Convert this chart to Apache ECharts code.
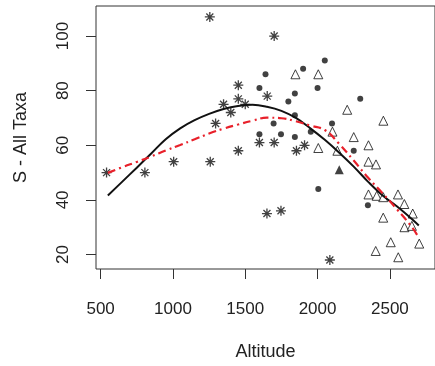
<!DOCTYPE html>
<html>
<head>
<meta charset="utf-8">
<script src="https://cdn.jsdelivr.net/npm/echarts@6/dist/echarts.min.js"></script>
<style>
  html, body { margin: 0; padding: 0; background: #fff; }
  #chart { width: 435px; height: 366px; }
</style>
</head>
<body>
<div id="chart"></div>
<script>
// ticks
const xTicks = [500, 1000, 1500, 2000, 2500];
const yTicks = [20, 40, 60, 80, 100];

// points by symbol, [altitude, S]
const starPoints = [
  [541, 50], [806, 50], [1005, 54], [1258, 54], [1255, 107], [1295, 68],
  [1350, 75], [1400, 72], [1452, 82], [1452, 77], [1452, 58], [1500, 75],
  [1700, 100], [1652, 78], [1598, 61], [1700, 61], [1910, 60], [1854, 58],
  [1650, 35], [1747, 36], [2085, 18]
];
const dotPoints = [
  [1598, 81], [1640, 86], [1900, 88], [2050, 91], [2000, 81], [1843, 79],
  [1798, 76], [1843, 71], [1696, 68], [2100, 68], [1598, 64], [1747, 64],
  [1843, 63], [1953, 65], [2005, 44], [2295, 77], [2250, 58], [2348, 38]
];
const trianglePoints = [
  [1847, 86], [2005, 86], [2005, 59], [2103, 65], [2205, 73], [2455, 69],
  [2250, 63], [2352, 60], [2352, 54], [2404, 53], [2137, 58], [2352, 42],
  [2409, 41.5], [2454, 41], [2556, 42], [2600, 38.5], [2658, 35], [2454, 33.5],
  [2601, 30], [2652, 30.5], [2506, 24.5], [2703, 24], [2402, 21.3], [2558, 19]
];
const filledTrianglePoints = [[2150, 51]];

const fitAltitude = [550, 650, 750, 850, 950, 1050, 1150, 1250, 1350, 1450, 1550, 1650,
  1750, 1850, 1950, 2050, 2150, 2250, 2350, 2450, 2550, 2650, 2700];
const blackFit = [41.6, 46.7, 51.8, 57, 62.2, 66.2, 69.2, 71.5, 73.3, 74.4, 74.8, 74.1,
  72.6, 70, 66.2, 62, 57.3, 52.2, 46.6, 41.6, 37.6, 33.1, 30.6];
const redFit = [49.9, 52, 53.9, 55.9, 58.1, 60.1, 62.2, 64.3, 66.1, 67.6, 69, 70.1,
  69.9, 68.8, 67.2, 65.6, 60.5, 54.4, 48.1, 42.4, 36.5, 30.2, 26.2];

const FONT = 'Liberation Sans, Arial, sans-serif';
const INK = '#222';
const STAR = 'path://M0,-1L0,1M-1,0L1,0M-0.7,-0.7L0.7,0.7M-0.7,0.7L0.7,-0.7';

const chart = echarts.init(document.getElementById('chart'), null, { renderer: 'canvas' });

chart.setOption({
  backgroundColor: '#fff',
  animation: false,
  grid: {
    left: 96, top: 6, width: 345, height: 271,
    show: true, borderColor: '#333', borderWidth: 1, backgroundColor: 'transparent'
  },
  xAxis: {
    type: 'value', min: 468, max: 2812,
    name: 'Altitude', nameLocation: 'middle', nameGap: 74,
    nameTextStyle: { fontFamily: FONT, fontSize: 18, color: INK },
    axisLine: { show: false },
    splitLine: { show: false },
    axisTick: { show: true, length: 10, lineStyle: { color: '#333' }, customValues: xTicks },
    axisLabel: {
      fontFamily: FONT, fontSize: 17, color: INK, margin: 32, customValues: xTicks,
      formatter: v => String(v)
    }
  },
  yAxis: {
    type: 'value', min: 14.7, max: 111,
    name: 'S - All Taxa', nameLocation: 'middle', nameGap: 66,
    nameTextStyle: { fontFamily: FONT, fontSize: 18, color: INK },
    axisLine: { show: false },
    splitLine: { show: false },
    axisTick: { show: true, length: 10, lineStyle: { color: '#333' }, customValues: yTicks },
    axisLabel: { fontFamily: FONT, fontSize: 17, color: INK, margin: 24, rotate: 90, customValues: yTicks }
  },
  series: [
    {
      type: 'scatter', data: starPoints, symbol: STAR, symbolSize: 10, symbolKeepAspect: true,
      itemStyle: { color: 'none', borderColor: '#111', borderWidth: 1.3 }
    },
    {
      type: 'scatter', data: dotPoints, symbol: 'circle', symbolSize: 6,
      itemStyle: { color: '#111' }
    },
    {
      type: 'scatter', data: trianglePoints, symbol: 'triangle', symbolSize: 9,
      itemStyle: { color: '#fff', borderColor: '#111', borderWidth: 1 }
    },
    {
      type: 'scatter', data: filledTrianglePoints, symbol: 'triangle', symbolSize: 9,
      itemStyle: { color: '#111' }
    },
    {
      type: 'line', data: fitAltitude.map((x, i) => [x, blackFit[i]]),
      smooth: 0.4, showSymbol: false,
      lineStyle: { color: '#111', width: 2 }
    },
    {
      type: 'line', data: fitAltitude.map((x, i) => [x, redFit[i]]),
      smooth: 0.4, showSymbol: false,
      lineStyle: { color: '#e8202a', width: 2.2, type: [8, 4, 2, 4] }
    }
  ]
});
</script>
</body>
</html>
